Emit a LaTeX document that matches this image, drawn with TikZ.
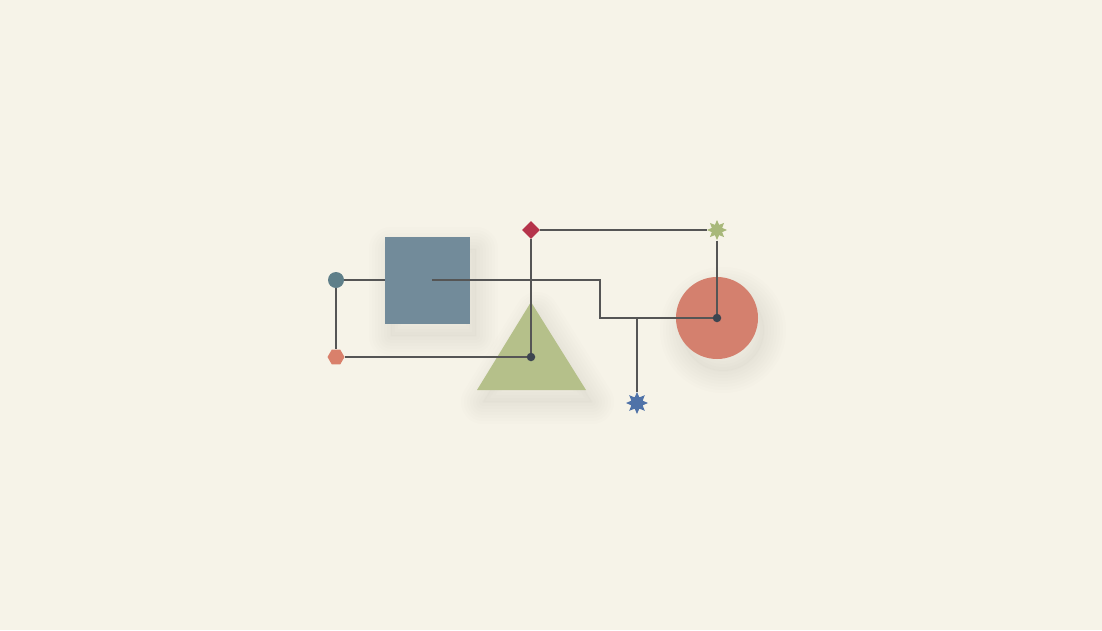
\documentclass[tikz,border=0pt]{standalone}
\usetikzlibrary{shapes.geometric}
\definecolor{bgc}{HTML}{F6F3E8}
\definecolor{sqc}{HTML}{728B9A}
\definecolor{tealc}{HTML}{5F7F89}
\definecolor{salc}{HTML}{D9806B}
\definecolor{redc}{HTML}{B5334A}
\definecolor{grnc}{HTML}{A8B87A}
\definecolor{circc}{HTML}{D4806E}
\definecolor{tric}{HTML}{B5C08A}
\definecolor{bluec}{HTML}{4F72A8}
\definecolor{linec}{HTML}{555555}
\definecolor{dotc}{HTML}{3D4550}
\definecolor{shc}{HTML}{7A7060}
\newcommand\mysoftshadow[1]{%
  \foreach \w in {44,38,32,26,20,14,8,2}{%
    \draw[shc,draw opacity=0.012,line width=\w pt,line join=round,shift={(6,12)}] #1;}
  \fill[shc,fill opacity=0.02,shift={(6,12)}] #1;}
\tikzset{
  conn/.style={draw=linec,line width=1.6pt},
  jdot/.style={circle,fill=dotc,inner sep=0pt,minimum size=8.5pt},
  small/.style={inner sep=0pt,draw=none},
}
\begin{document}
\begin{tikzpicture}[x=1pt,y=-1pt]
\fill[bgc] (0,0) rectangle (1102,630);
\useasboundingbox (0,0) rectangle (1102,630);
% soft shadows
\mysoftshadow{(385,237) rectangle (470,324)}
\mysoftshadow{(717,318) circle[radius=41]}
\mysoftshadow{(531,302) -- (586,390) -- (477,390) -- cycle}
% shapes
\node[small,rectangle,fill=sqc,minimum width=85pt,minimum height=87pt] (sq) at (427.5,280.5) {};
\node[small,circle,fill=circc,minimum size=82pt] (bc) at (717,318) {};
\fill[tric] (531,302) -- (586,390) -- (477,390) -- cycle;
\coordinate (tri) at (531,357);
\node[small,circle,fill=tealc,minimum size=16pt] (tc) at (336,280) {};
\node[small,regular polygon,regular polygon sides=6,fill=salc,minimum size=17pt] (hx) at (336,357) {};
\node[small,diamond,fill=redc,minimum size=18pt] (dm) at (531,230) {};
\node[small,star,star points=8,star point ratio=1.8,fill=grnc,minimum size=20pt] (gs) at (717,230) {};
\node[small,star,star points=8,star point ratio=1.8,fill=bluec,minimum size=22pt] (bs) at (637,403) {};
\coordinate (sqm) at (432,280);
\coordinate (sqw) at (385,280);
\coordinate (b1) at (600,280);
\coordinate (b2) at (600,318);
\coordinate (b3) at (637,318);
% connectors
\draw[conn] (tc.east) -- (sqw);
\draw[conn] (tc.south) -- (hx.north);
\draw[conn] (hx.east) -- (tri);
\draw[conn] (dm.south) -- (tri);
\draw[conn] (dm.east) -- (gs.west);
\draw[conn] (gs.south) -- (bc.center);
\draw[conn] (sqm) -- (b1) -- (b2) -- (bc.center);
\draw[conn] (b3) -- (bs.north);
\node[jdot] (d1) at (tri) {};
\node[jdot] (d2) at (bc.center) {};
\end{tikzpicture}
\end{document}
